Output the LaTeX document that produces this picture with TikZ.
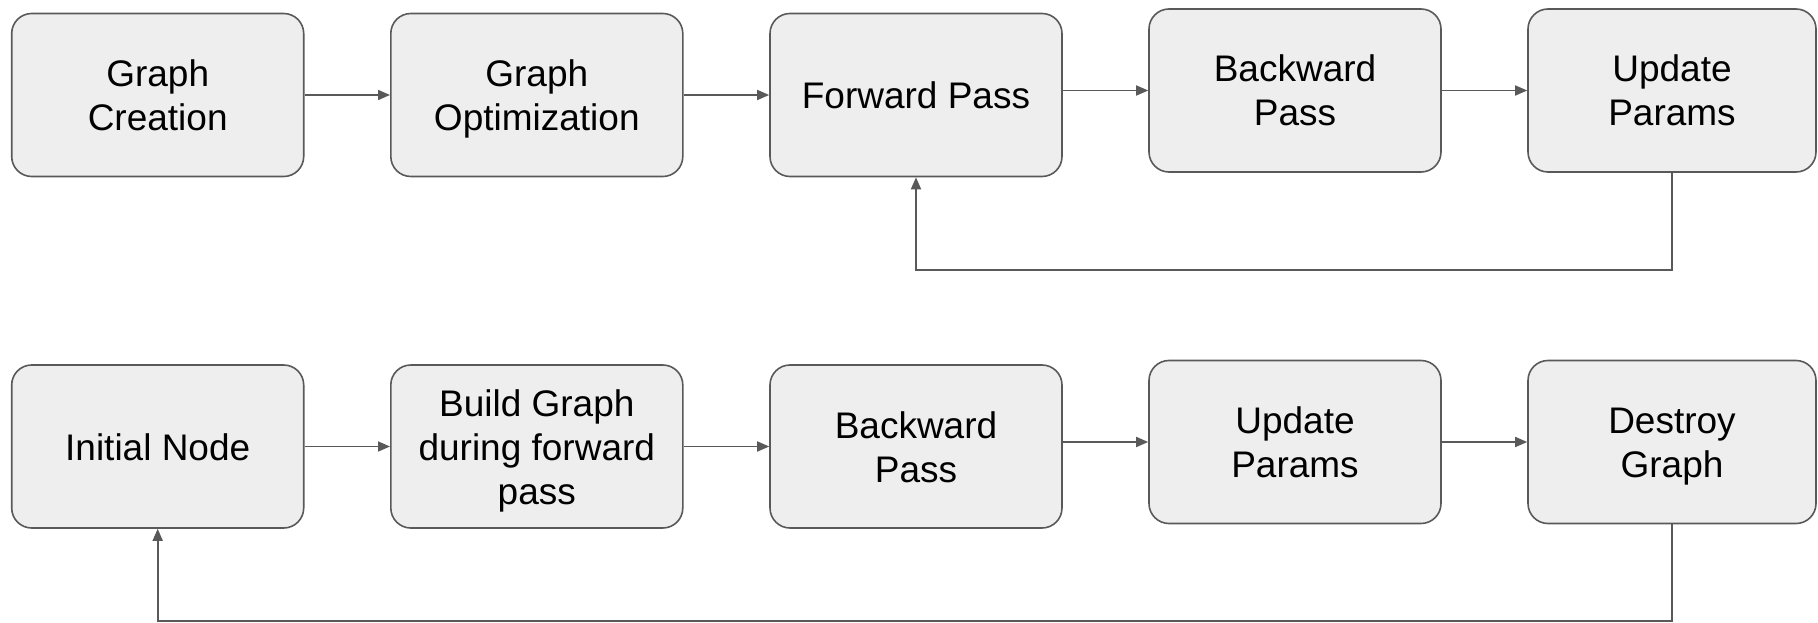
\documentclass[tikz,border=0pt]{standalone}
\usepackage{fontspec}
\setmainfont{Liberation Sans}
\usetikzlibrary{arrows.meta}
\definecolor{boxfill}{HTML}{EEEEEE}
\definecolor{edge}{HTML}{595959}
% every text line gets the same height (35pt) and depth (8pt)
\newcommand{\ls}{\rule[-8pt]{0pt}{43pt}}
\tikzset{
  stage/.style={rectangle, rounded corners=20pt, draw=edge, line width=1.6pt,
    fill=boxfill, minimum width=292pt, minimum height=163pt, inner sep=0pt,
    align=center, font=\fontsize{37}{44}\selectfont, text=black},
  flow/.style={draw=edge, line width=1.7pt,
    -{Triangle[length=12pt,width=10pt]}},
}
\begin{document}
\begin{tikzpicture}[x=1pt, y=-1pt]
\useasboundingbox (0,0) rectangle (1818,623);

% static graph pipeline
\node[stage] (a1) at (157.7,95) {\ls Graph\\\ls Creation};
\node[stage] (a2) at (536.8,95) {\ls Graph\\\ls Optimization};
\node[stage] (a3) at (916,95) {\ls Forward Pass};
\node[stage] (a4) at (1295,90.5) {\ls Backward\\\ls Pass};
\node[stage, minimum width=288pt] (a5) at (1672,90.5) {\ls Update\\\ls Params};
\coordinate (loopA) at (0,270);

\draw[flow] (a1) -- (a2);
\draw[flow] (a2) -- (a3);
\draw[flow] (a3.east |- a4.west) -- (a4.west);
\draw[flow] (a4) -- (a5);
\draw[flow] (a5.south) -- (a5.south |- loopA) -| (a3.south);

% dynamic graph pipeline
\node[stage] (b1) at (157.7,446.5) {\ls Initial Node};
\node[stage] (b2) at (536.8,446.5) {\ls Build Graph\\\ls during forward\\\ls pass};
\node[stage] (b3) at (916,446.5) {\ls Backward\\\ls Pass};
\node[stage] (b4) at (1295,442) {\ls Update\\\ls Params};
\node[stage, minimum width=288pt] (b5) at (1672,442) {\ls Destroy\\\ls Graph};
\coordinate (loopB) at (0,621);

\draw[flow] (b1) -- (b2);
\draw[flow] (b2) -- (b3);
\draw[flow] (b3.east |- b4.west) -- (b4.west);
\draw[flow] (b4) -- (b5);
\draw[flow] (b5.south) -- (b5.south |- loopB) -| (b1.south);
\end{tikzpicture}
\end{document}
